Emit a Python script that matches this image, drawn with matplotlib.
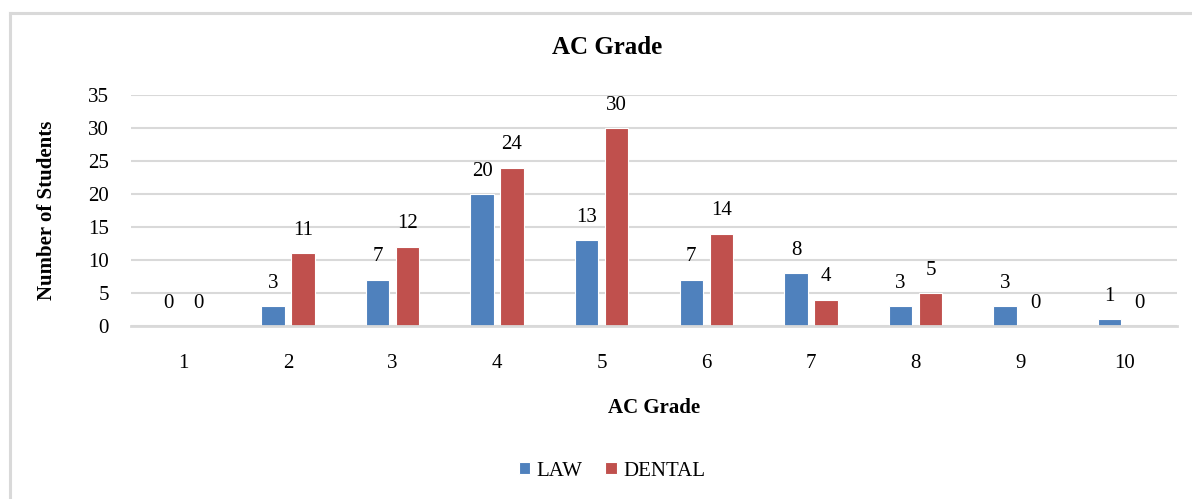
import matplotlib
matplotlib.use("Agg")
import matplotlib.pyplot as plt
import numpy as np
from matplotlib.lines import Line2D

categories = ["1", "2", "3", "4", "5", "6", "7", "8", "9", "10"]
law = [0, 3, 7, 20, 13, 7, 8, 3, 3, 1]
dental = [0, 11, 12, 24, 30, 14, 4, 5, 0, 0]
yticks = [0, 5, 10, 15, 20, 25, 30, 35]

LAW_C = "#4f81bd"
DEN_C = "#c0504d"
GRID_C = "#d9d9d9"

plt.rcParams['font.family'] = ['Liberation Serif', 'DejaVu Serif']

W, H = 1192, 499
fig = plt.figure(figsize=(W / 100, H / 100), dpi=100)
ax = fig.add_axes([131 / W, 1 - 326 / H, (1177 - 131) / W, (326 - 95) / H])

x = np.arange(len(categories))
bw = 0.223
off = 0.143
b1 = ax.bar(x - off, law, bw, color=LAW_C, edgecolor="white", linewidth=0.8, zorder=3, label="LAW")
b2 = ax.bar(x + off, dental, bw, color=DEN_C, edgecolor="white", linewidth=0.8, zorder=3, label="DENTAL")

for xi, v in zip(x - off, law):
    ax.annotate(str(v), (xi, v), xytext=(0, 16.5), textcoords="offset points",
                ha="center", va="center", fontsize=15, color="#000000")
for xi, v in zip(x + off, dental):
    ax.annotate(str(v), (xi, v), xytext=(0, 16.5), textcoords="offset points",
                ha="center", va="center", fontsize=15, color="#000000")

ax.set_xlim(-0.5, len(categories) - 0.5)
ax.set_ylim(0, 35)
ax.set_yticks(yticks)
ax.set_xticks(x)
ax.set_xticklabels(categories)
ax.tick_params(axis="both", length=0, labelsize=15)
ax.tick_params(axis="y", pad=16)
ax.tick_params(axis="x", pad=20)
ax.yaxis.grid(True, color=GRID_C, linewidth=1.5, zorder=0)
ax.set_axisbelow(True)
for s in ["top", "right", "left"]:
    ax.spines[s].set_visible(False)
ax.spines["bottom"].set_color(GRID_C)
ax.spines["bottom"].set_linewidth(2)
ax.spines["bottom"].set_zorder(4)

ax.set_ylabel("Number of Students", fontsize=15, fontweight="bold")
ax.yaxis.set_label_coords((57 - 131) / (1177 - 131), 0.5)
ax.set_xlabel("AC Grade", fontsize=15, fontweight="bold")
ax.xaxis.set_label_coords(0.5, (326 - 398) / (326 - 95))

fig.text(607.5 / W, 1 - 47 / H, "AC Grade", ha="center", va="center",
         fontsize=18, fontweight="bold")

fig.legend(handles=[b1, b2], labels=["LAW", "DENTAL"], loc="center",
           bbox_to_anchor=(612 / W, 1 - 471 / H), ncol=2, frameon=False,
           fontsize=15, handlelength=0.55, handleheight=0.55, handletextpad=0.3,
           columnspacing=1.1)

# chart area border
fig.add_artist(Line2D([10 / W, 10 / W], [-0.05, 1 - 12.5 / H], color=GRID_C, linewidth=2.2))
fig.add_artist(Line2D([10 / W, 1.05], [1 - 12.5 / H, 1 - 12.5 / H], color=GRID_C, linewidth=2.2))

fig.savefig("out.png", dpi=100)
